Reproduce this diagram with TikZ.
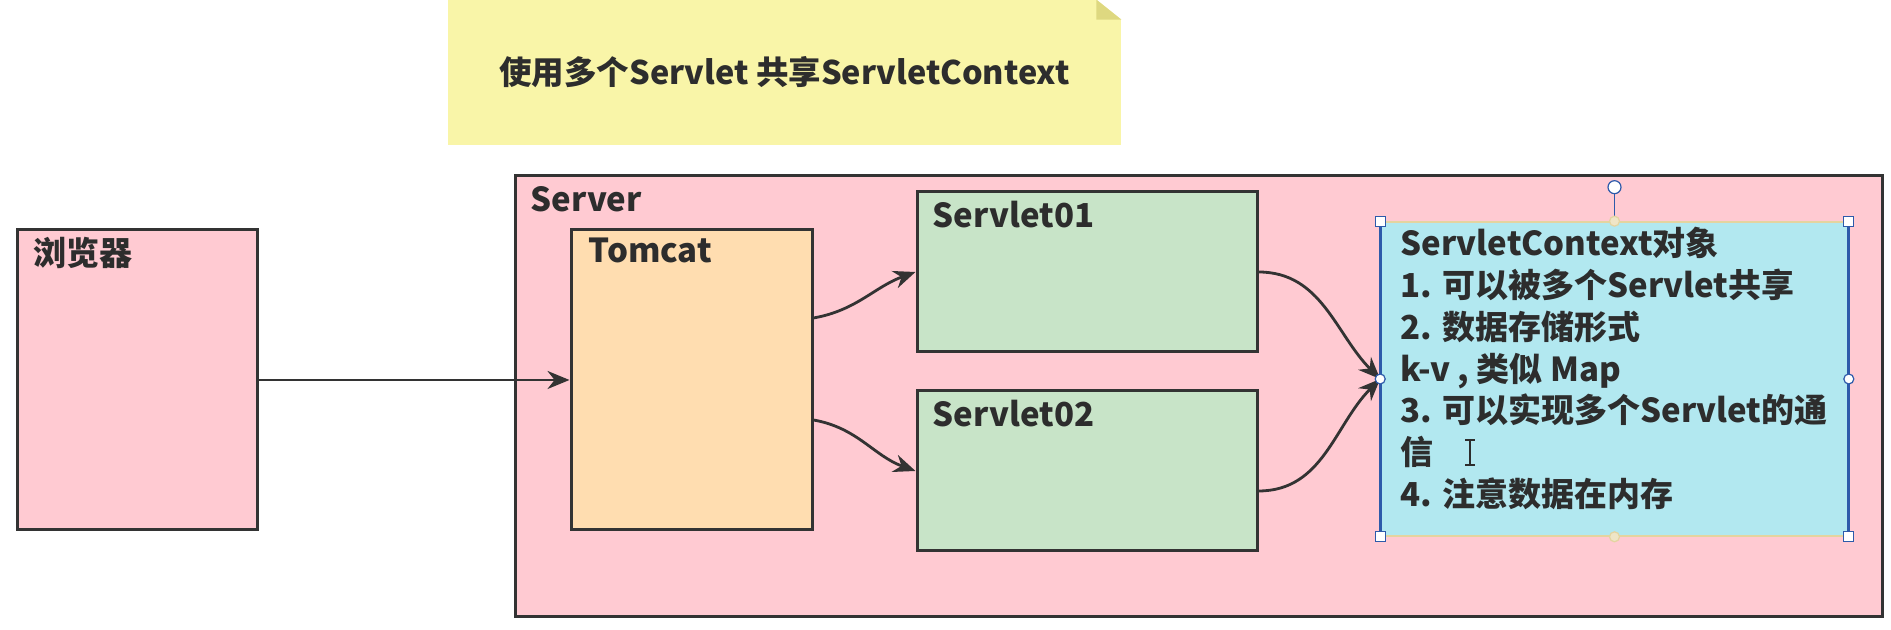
\documentclass[tikz,border=0pt]{standalone}
\usepackage{fontspec}
\setmainfont{Noto Sans CJK SC}
\usetikzlibrary{arrows.meta, positioning, calc}
\definecolor{notey}{RGB}{249,245,168}
\definecolor{notefold}{RGB}{222,216,128}
\definecolor{pinkc}{RGB}{255,202,210}
\definecolor{tomc}{RGB}{255,221,176}
\definecolor{servc}{RGB}{200,228,200}
\definecolor{ctxc}{RGB}{178,232,240}
\definecolor{linec}{RGB}{51,51,51}
\definecolor{textc}{RGB}{45,45,45}
\definecolor{handlec}{RGB}{45,90,170}
\definecolor{edgec}{RGB}{228,212,160}
\tikzset{
  box/.style={draw=linec, line width=1.5pt, inner sep=0pt}, % every coloured block
  lbl/.style={anchor=north west, inner sep=0pt, text=textc,
    font=\bfseries\fontsize{16.5}{20}\selectfont}, % block titles, top left
  flow/.style={->, >={Stealth[length=11pt,width=9pt]}, draw=linec, line width=1.4pt},
  handle/.style={draw=handlec, fill=white, line width=0.6pt, inner sep=0pt, minimum size=5pt},
}

\begin{document}
\begin{tikzpicture}[x=0.5pt, y=0.5pt]
  \useasboundingbox (0,0) rectangle (1891,630);

  % sticky note
  \node[fill=notey, minimum width=336.5pt, minimum height=72.5pt, text=textc,
    font=\bfseries\fontsize{16.25}{20}\selectfont] (title) at (784.5,557.5)
    {使用多个Servlet 共享ServletContext};
  \fill[white] ([xshift=-12.5pt]title.north east) -- (title.north east) -- ([yshift=-10pt]title.north east) -- cycle;
  \fill[notefold] ([xshift=-12.5pt]title.north east) -- ([yshift=-10pt]title.north east)
    -- ([xshift=-12.5pt, yshift=-10pt]title.north east) -- cycle;

  % blocks
  \node[box, fill=pinkc, minimum width=683.5pt, minimum height=220.5pt,
    label={[lbl, xshift=8.5pt, yshift=-6pt]north west:Server}] (server) at (1198.5,233.5) {};
  \node[box, fill=pinkc, minimum width=120pt, minimum height=150pt,
    label={[lbl, xshift=9pt, yshift=-4pt]north west:浏览器}] (browser) at (137,250) {};
  \node[box, fill=tomc, minimum width=120.5pt, minimum height=150pt, right=155.5pt of browser,
    label={[lbl, xshift=9.5pt, yshift=-4.5pt]north west:Tomcat}] (tomcat) {};
  \node[box, fill=servc, minimum width=170pt, minimum height=80pt,
    label={[lbl, xshift=8.5pt, yshift=-5pt]north west:Servlet01}] (servlet01) at (1087,358) {};
  \node[box, fill=servc, minimum width=170pt, minimum height=80pt, below=18pt of servlet01,
    label={[lbl, xshift=8.5pt, yshift=-5pt]north west:Servlet02}] (servlet02) {};
  \node[draw=edgec, fill=ctxc, line width=0.8pt, inner sep=0pt, minimum width=233.5pt, minimum height=157pt,
    label={[lbl, align=left, font=\bfseries\fontsize{16.5}{20.85}\selectfont, xshift=10pt, yshift=-3pt]north west:{%
      ServletContext对象\\
      1. 可以被多个Servlet共享\\
      2. 数据存储形式\\
      k-v , 类似 Map\\
      3. 可以实现多个Servlet的通\\
      信\\
      4. 注意数据在内存}}] (ctx) at (1614.5,251) {};

  % connectors
  \draw[flow] (browser.east) -- (tomcat.west);
  \draw[flow] ([yshift=31pt]tomcat.east) to[out=10, in=200] (servlet01.west);
  \draw[flow] ([yshift=-20pt]tomcat.east) to[out=-10, in=160] (servlet02.west);
  \draw[flow] (servlet01.east) to[out=0, in=135] (ctx.west);
  \draw[flow] ([yshift=-10pt]servlet02.east) to[out=0, in=225] (ctx.west);

  % selection frame on the context box
  \draw[handlec, line width=1.5pt] (ctx.north west) -- (ctx.south west) (ctx.north east) -- (ctx.south east);
  \coordinate (rot) at ($(ctx.north)+(0,17pt)$);
  \draw[handlec, line width=0.8pt] (ctx.north) -- (rot);
  \node[handle, circle, minimum size=6.5pt] at (rot) {};
  \foreach \a in {north west, north east, south west, south east}
    \node[handle] at (ctx.\a) {};
  \foreach \a in {west, east}
    \node[handle, circle] at (ctx.\a) {};
  \foreach \a in {north, south}
    \node[handle, circle, draw=edgec, fill=edgec!60] at (ctx.\a) {};

  % text cursor
  \draw[textc, line width=0.7pt] (1470,190) -- (1470,165) (1465,190) -- (1475,190) (1465,165) -- (1475,165);
\end{tikzpicture}
\end{document}
